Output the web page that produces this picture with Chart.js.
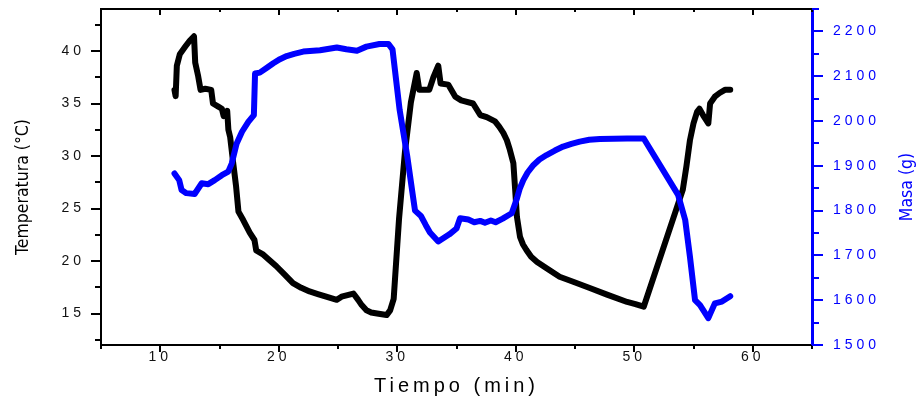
<!DOCTYPE html>
<html>
<head>
<meta charset="utf-8">
<script src="https://cdn.jsdelivr.net/npm/chart.js@4.4.1/dist/chart.umd.min.js"></script>
<style>
html,body{margin:0;padding:0;background:#fff;}
#wrap{width:922px;height:400px;position:relative;}
</style>
</head>
<body>
<div id="wrap"><canvas id="c" width="922" height="400"></canvas></div>
<script>
// ---- Data ----
const tempTime = [11.2, 11.3, 11.4, 11.65, 12.1, 12.5, 12.85, 12.95, 13.2, 13.4, 13.8, 14.3, 14.45, 14.9, 15.2, 15.35, 15.65, 15.75, 15.9, 16.15, 16.4, 16.6, 17.0, 17.55, 17.95, 18.1, 18.7, 19.2, 19.8, 20.5, 21.2, 21.9, 22.6, 23.3, 24.0, 24.9, 25.3, 26.3, 26.7, 27.0, 27.4, 27.8, 28.3, 29.1, 29.4, 29.7, 30.15, 30.65, 31.15, 31.64, 31.86, 32.7, 33.05, 33.46, 33.66, 34.3, 34.9, 35.4, 36.4, 37.0, 37.55, 38.25, 38.6, 38.95, 39.25, 39.5, 39.8, 39.95, 40.1, 40.36, 40.6, 40.9, 41.3, 41.8, 42.6, 43.7, 44.9, 46.3, 47.7, 49.4, 50.1, 50.8, 54.1, 54.4, 54.7, 55.0, 55.3, 55.5, 55.8, 56.25, 56.4, 56.8, 57.2, 57.65, 58.1];
const tempValues = [36.3, 35.7, 38.6, 39.7, 40.4, 41.0, 41.4, 38.9, 37.6, 36.3, 36.4, 36.3, 35.0, 34.7, 34.5, 33.8, 34.3, 32.5, 31.8, 29.4, 27.1, 24.7, 23.9, 22.7, 22.0, 21.0, 20.6, 20.1, 19.5, 18.7, 17.9, 17.45, 17.1, 16.85, 16.6, 16.3, 16.6, 16.9, 16.3, 15.8, 15.3, 15.1, 15.0, 14.85, 15.3, 16.4, 24.0, 30.4, 35.1, 37.9, 36.3, 36.3, 37.5, 38.6, 36.9, 36.8, 35.65, 35.3, 35.0, 33.9, 33.7, 33.3, 32.8, 32.2, 31.5, 30.6, 29.3, 26.8, 24.2, 22.3, 21.6, 21.05, 20.4, 19.9, 19.3, 18.5, 18.0, 17.4, 16.8, 16.1, 15.9, 15.65, 26.8, 29.0, 31.5, 33.1, 34.2, 34.5, 33.9, 33.1, 35.0, 35.65, 36.0, 36.3, 36.3];

const massTime = [11.2, 11.6, 11.8, 12.2, 12.9, 13.5, 14.05, 14.6, 15.2, 15.74, 16.03, 16.45, 16.9, 17.43, 17.9, 18.0, 18.4, 19.0, 19.54, 20.1, 20.67, 21.3, 22.07, 23.48, 24.9, 25.7, 26.6, 27.4, 28.5, 29.25, 29.6, 30.2, 30.85, 31.2, 31.5, 32.0, 32.4, 32.76, 33.46, 34.4, 35.0, 35.3, 36.0, 36.5, 37.0, 37.4, 37.9, 38.3, 38.9, 39.66, 40.1, 40.35, 40.64, 41.0, 41.5, 42.0, 42.6, 43.3, 44.0, 44.7, 45.4, 46.2, 47.1, 49.4, 50.8, 53.7, 54.3, 54.7, 55.13, 55.55, 56.25, 56.8, 57.4, 58.1];
const massValues = [1883, 1868, 1846, 1839, 1837, 1861, 1859, 1868, 1879, 1887, 1905, 1950, 1976, 1998, 2013, 2106, 2108, 2119, 2129, 2138, 2145, 2150, 2155, 2158, 2164, 2160, 2157, 2166, 2172, 2172, 2160, 2025, 1920, 1855, 1800, 1788, 1768, 1751, 1731, 1747, 1760, 1783, 1780, 1774, 1777, 1773, 1778, 1774, 1782, 1794, 1827, 1850, 1868, 1885, 1902, 1914, 1924, 1934, 1943, 1949, 1954, 1958, 1960, 1961, 1961, 1835, 1779, 1697, 1600, 1589, 1560, 1593, 1597, 1609];

const timeTicks = [10, 20, 30, 40, 50, 60];
const tempTicks = [15, 20, 25, 30, 35, 40];
const massTicks = [1500, 1600, 1700, 1800, 1900, 2000, 2100, 2200];

const xTitle = 'Tiempo (min)';
const yTitle = 'Temperatura (°C)';
const y2Title = 'Masa (g)';

// ---- Chart ----
const BLUE = '#0000ff';
const TICK_FONT = {family: '"Liberation Sans", Arial, sans-serif', size: 14};

const noPad = s => { s.paddingTop = 0; s.paddingBottom = 0; s.paddingLeft = 0; s.paddingRight = 0; };

const decor = {
  id: 'decor',
  beforeDraw(chart) {
    chart.ctx.letterSpacing = '4px';
  },
  afterDraw(chart) {
    const {ctx, chartArea: a, scales} = chart;
    const sx = scales.x, sy = scales.y, sy1 = scales.y1;
    ctx.save();
    ctx.letterSpacing = '0px';
    ctx.lineCap = 'butt';
    const seg = (x1, y1, x2, y2) => { ctx.beginPath(); ctx.moveTo(x1, y1); ctx.lineTo(x2, y2); ctx.stroke(); };
    ctx.strokeStyle = '#000';
    ctx.lineWidth = 2;
    // top frame line
    seg(a.left - 1, a.top, a.right, a.top);
    // x ticks (bottom outward, top inward)
    for (let v = sx.min; v <= sx.max + 1e-9; v += 5) {
      const px = Math.round(sx.getPixelForValue(v));
      const major = timeTicks.includes(v);
      seg(px, a.bottom, px, a.bottom + (major ? 7 : 4));
      seg(px, a.top, px, a.top + (major ? 6 : 3));
    }
    // left y ticks
    for (let v = 12.5; v <= sy.max; v += 2.5) {
      const py = Math.round(sy.getPixelForValue(v));
      const major = tempTicks.includes(v);
      seg(a.left, py, a.left - (major ? 10 : 6), py);
    }
    // right y ticks
    ctx.strokeStyle = BLUE;
    for (let v = sy1.min; v <= sy1.max; v += 50) {
      const py = Math.round(sy1.getPixelForValue(v));
      const major = massTicks.includes(v);
      seg(a.right, py, a.right + (major ? 11 : 7), py);
    }
    // vertical axis titles
    const cy = (a.top + a.bottom) / 2 + 10;
    ctx.textAlign = 'center';
    ctx.textBaseline = 'middle';
    ctx.font = '17.5px "Liberation Sans Narrow", "DejaVu Sans Condensed", "Liberation Sans", sans-serif';
    ctx.fillStyle = '#000';
    ctx.save();
    ctx.translate(sy.left + 23, cy);
    ctx.rotate(-Math.PI / 2);
    ctx.fillText(yTitle, 0, 0);
    ctx.restore();
    ctx.fillStyle = BLUE;
    ctx.save();
    ctx.translate(sy1.left + 95, cy);
    ctx.rotate(-Math.PI / 2);
    ctx.fillText(y2Title, 0, 0);
    ctx.restore();
    ctx.restore();
  }
};

const lineStyle = {
  borderWidth: 6,
  pointRadius: 0,
  fill: false,
  tension: 0,
  borderJoinStyle: 'round',
  borderCapStyle: 'round'
};

new Chart(document.getElementById('c'), {
  type: 'line',
  data: {
    datasets: [
      Object.assign({
        label: y2Title,
        data: massTime.map((t, i) => ({x: t, y: massValues[i]})),
        yAxisID: 'y1',
        borderColor: BLUE,
        order: 0
      }, lineStyle),
      Object.assign({
        label: yTitle,
        data: tempTime.map((t, i) => ({x: t, y: tempValues[i]})),
        yAxisID: 'y',
        borderColor: '#000',
        order: 1
      }, lineStyle)
    ]
  },
  options: {
    responsive: false,
    animation: false,
    devicePixelRatio: 1,
    layout: {padding: {top: 9, left: 0, right: 0, bottom: 0}},
    plugins: {legend: {display: false}, tooltip: {enabled: false}},
    scales: {
      x: {
        type: 'linear',
        position: 'bottom',
        min: 5,
        max: 65,
        afterBuildTicks: s => { s.ticks = timeTicks.map(v => ({value: v})); },
        afterFit: s => { s.height = 55; noPad(s); },
        grid: {display: false, drawTicks: false},
        border: {display: true, color: '#000', width: 2},
        ticks: {color: '#111', font: TICK_FONT, padding: 4, maxRotation: 0, autoSkip: false,
                callback: v => String(v)},
        title: {display: true, text: xTitle, color: '#000',
                font: {family: '"Liberation Sans", Arial, sans-serif', size: 20},
                padding: {top: 0, bottom: 2}}
      },
      y: {
        type: 'linear',
        position: 'left',
        min: 12,
        max: 44,
        afterBuildTicks: s => { s.ticks = tempTicks.map(v => ({value: v})); },
        afterFit: s => { s.width = 101; noPad(s); },
        grid: {display: false, drawTicks: false},
        border: {display: true, color: '#000', width: 2},
        ticks: {color: '#111', font: TICK_FONT, padding: 16, callback: v => String(v)}
      },
      y1: {
        type: 'linear',
        position: 'right',
        min: 1500,
        max: 2250,
        afterBuildTicks: s => { s.ticks = massTicks.map(v => ({value: v})); },
        afterFit: s => { s.width = 110; noPad(s); },
        grid: {display: false, drawTicks: false},
        border: {display: true, color: BLUE, width: 3},
        ticks: {color: BLUE, font: TICK_FONT, padding: 21, callback: v => String(v)}
      }
    }
  },
  plugins: [decor]
});
</script>
</body>
</html>
